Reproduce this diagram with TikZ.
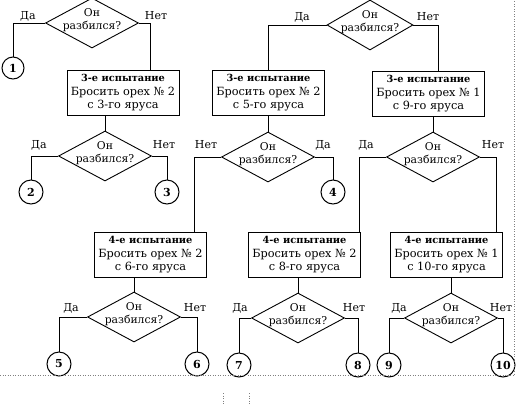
\documentclass[tikz,border=0pt]{standalone}
\usepackage{fontspec}
\setmainfont{DejaVu Serif}
\usetikzlibrary{shapes.geometric}
\newcommand{\boldline}[1]{{\fontsize{9.8}{13.5}\selectfont\bfseries #1}}
\begin{document}
\begin{tikzpicture}[x=1pt,y=-1pt,
  conn/.style={line width=0.9pt},
  box/.style={draw, line width=0.9pt, minimum width=112pt, minimum height=45pt,
    align=center, inner sep=2pt, font=\fontsize{11.3}{13.5}\selectfont},
  dia/.style={draw, diamond, minimum width=93pt, minimum height=50pt, inner sep=0pt, line width=0.9pt},
  dtext/.style={align=center, inner sep=0pt, font=\fontsize{10.8}{12.5}\selectfont},
  circ/.style={draw, circle, minimum size=24pt, inner sep=0pt, line width=1pt,
    font=\fontsize{11}{12}\selectfont\bfseries},
  lab/.style={inner sep=0pt, font=\fontsize{11}{12}\selectfont},
  frame/.style={dotted, line width=0.5pt, gray}
]
\useasboundingbox (0,0) rectangle (516,405);
\begin{scope}
\clip (0,0) rectangle (516,405);
% diamonds
\node[dia] (D) at (92,23) {};
\node[dtext] (Dt) at (92,20) {Он\\разбился?};
\node[dia, minimum width=86pt] (A) at (370,25) {};
\node[dtext] (At) at (370,22) {Он\\разбился?};
\node[dia] (F) at (105,156) {};
\node[dtext] (Ft) at (105,153) {Он\\разбился?};
\node[dia] (G) at (268,157) {};
\node[dtext] (Gt) at (268,154) {Он\\разбился?};
\node[dia] (I) at (433,157) {};
\node[dtext] (It) at (433,154) {Он\\разбился?};
\node[dia] (L) at (134,317) {};
\node[dtext] (Lt) at (134,314) {Он\\разбился?};
\node[dia] (M) at (298,318) {};
\node[dtext] (Mt) at (298,315) {Он\\разбился?};
\node[dia] (N) at (451,318) {};
\node[dtext] (Nt) at (451,315) {Он\\разбился?};
% boxes
\node[box] (E) at (123,93) {\boldline{3-е испытание}\\Бросить орех № 2\\с 3-го яруса};
\node[box] (B) at (268.5,93) {\boldline{3-е испытание}\\Бросить орех № 2\\с 5-го яруса};
\node[box] (C) at (428.5,94) {\boldline{3-е испытание}\\Бросить орех № 1\\с 9-го яруса};
\node[box] (H) at (150.5,255) {\boldline{4-е испытание}\\Бросить орех № 2\\с 6-го яруса};
\node[box] (J) at (304.5,255) {\boldline{4-е испытание}\\Бросить орех № 2\\с 8-го яруса};
\node[box] (K) at (446.5,255) {\boldline{4-е испытание}\\Бросить орех № 1\\с 10-го яруса};
% circles
\node[circ, minimum size=22pt] (c1) at (13,68) {1};
\node[circ] (c2) at (31,192) {2};
\node[circ] (c3) at (167,192) {3};
\node[circ] (c4) at (333,192) {4};
\node[circ] (c5) at (59,364) {5};
\node[circ] (c6) at (197,364) {6};
\node[circ] (c7) at (239,365) {7};
\node[circ] (c8) at (358,365) {8};
\node[circ] (c9) at (389,365) {9};
\node[circ] (c10) at (503,365) {10};
% connectors
\draw[conn] (D.west) -| (c1.north);
\draw[conn] (D.east) -| (E.north -| 150,0);
\draw[conn] (E.south -| F.north) -- (F.north);
\draw[conn] (F.west) -| (c2.north);
\draw[conn] (F.east) -| (c3.north);
\draw[conn] (A.west) -| (B.north -| 268,0);
\draw[conn] (A.east) -| (C.north -| 438,0);
\draw[conn] (B.south -| G.north) -- (G.north);
\draw[conn] (C.south -| I.north) -- (I.north);
\draw[conn] (G.west) -| (H.north -| 194,0);
\draw[conn] (G.east) -| (c4.north);
\draw[conn] (I.west) -| (J.north -| 359,0);
\draw[conn] (I.east) -| (K.north -| 496,0);
\draw[conn] (H.south -| L.north) -- (L.north);
\draw[conn] (J.south -| M.north) -- (M.north);
\draw[conn] (K.south -| N.north) -- (N.north);
\draw[conn] (L.west) -| (c5.north);
\draw[conn] (L.east) -| (c6.north);
\draw[conn] (M.west) -| (c7.north);
\draw[conn] (M.east) -| (c8.north);
\draw[conn] (N.west) -| (c9.north);
\draw[conn] (N.east) -| (c10.north);
% labels
\node[lab] (lD1) at (28,16) {Да};
\node[lab] (lD2) at (156,16) {Нет};
\node[lab] (lA1) at (302,17) {Да};
\node[lab] (lA2) at (428,17) {Нет};
\node[lab] (lF1) at (39,145) {Да};
\node[lab] (lF2) at (164,145) {Нет};
\node[lab] (lG1) at (206,145) {Нет};
\node[lab] (lG2) at (323,145) {Да};
\node[lab] (lI1) at (366,145) {Да};
\node[lab] (lI2) at (493,145) {Нет};
\node[lab] (lL1) at (71,308) {Да};
\node[lab] (lL2) at (195,308) {Нет};
\node[lab] (lM1) at (240,308) {Да};
\node[lab] (lM2) at (354,308) {Нет};
\node[lab] (lN1) at (399,308) {Да};
\node[lab] (lN2) at (501,308) {Нет};
% scan frame
\draw[frame] (0,375) -- (514,375) -- (514,0);
\draw[frame] (223,393) -- (223,405);
\draw[frame] (249,393) -- (249,405);
\end{scope}
\end{tikzpicture}
\end{document}
